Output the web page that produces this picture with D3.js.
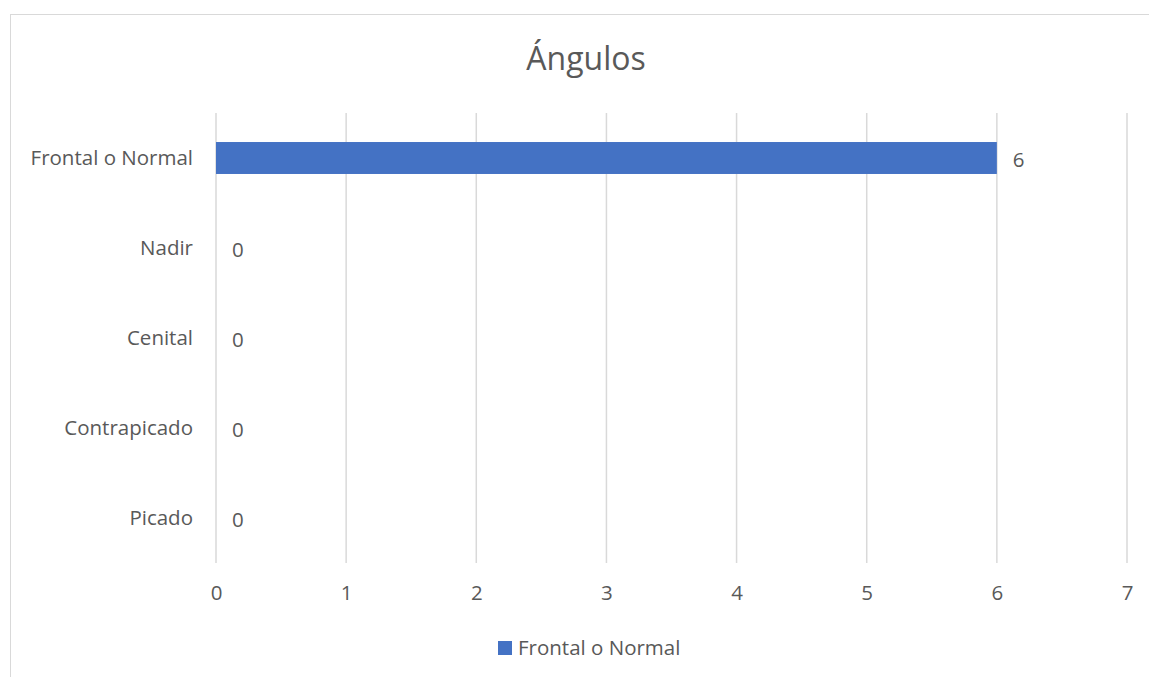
<!DOCTYPE html>
<html>
<head>
<meta charset="utf-8">
<script src="https://cdn.jsdelivr.net/npm/d3@7"></script>
<style>
  body { margin: 0; background: #fff; }
  text { font-family: "Open Sans", "Noto Sans", sans-serif; fill: #595959; }
</style>
</head>
<body>
<div id="chart"></div>
<script>
const categories = ['Frontal o Normal', 'Nadir', 'Cenital', 'Contrapicado', 'Picado'];
const values = [6, 0, 0, 0, 0];
const xTicks = [0, 1, 2, 3, 4, 5, 6, 7];
const seriesName = 'Frontal o Normal';
const title = 'Ángulos';

const W = 1149, H = 677;
const margin = { top: 113, right: 22, bottom: 114, left: 216 },
      width = W - margin.left - margin.right,
      height = H - margin.top - margin.bottom;

const fontSize = '20.5px';

const svg = d3.select('#chart')
              .append('svg')
              .attr('width', W)
              .attr('height', H);

// chart frame
svg.append('rect')
   .attr('x', 10.5).attr('y', 14.5)
   .attr('width', W).attr('height', H)
   .attr('fill', 'none')
   .attr('stroke', '#d9d9d9');

svg.append('text')
   .attr('x', 586).attr('y', 70)
   .attr('text-anchor', 'middle')
   .style('font-size', '32px')
   .text(title);

const g = svg.append('g')
             .attr('transform', `translate(${margin.left},${margin.top})`);

const x = d3.scaleLinear()
            .domain([0, 7])
            .range([0, width]);

const y = d3.scaleBand()
            .domain(categories)
            .range([0, height])
            .paddingInner(0.645)
            .paddingOuter(0.3225);

// vertical gridlines
g.selectAll('.grid')
 .data(xTicks)
 .enter()
 .append('line')
 .attr('x1', d => x(d)).attr('x2', d => x(d))
 .attr('y1', 0).attr('y2', height)
 .attr('stroke', '#d9d9d9')
 .attr('stroke-width', 1.5);

const xAxis = g.append('g')
               .attr('transform', `translate(0,${height})`)
               .call(d3.axisBottom(x).tickValues(xTicks).tickFormat(d3.format('d')).tickSize(0).tickPadding(22));
xAxis.select('.domain').remove();
xAxis.selectAll('text').style('font-size', fontSize).style('fill', '#595959').style('font-family', null);

const yAxis = g.append('g')
               .call(d3.axisLeft(y).tickSize(0).tickPadding(23));
yAxis.select('.domain').remove();
yAxis.selectAll('text').style('font-size', fontSize).style('fill', '#595959').style('font-family', null);

const data = categories.map((c, i) => ({ cat: c, val: values[i] }));

g.selectAll('.bar')
 .data(data)
 .enter()
 .append('rect')
 .attr('x', x(0))
 .attr('y', d => y(d.cat))
 .attr('width', d => x(d.val) - x(0))
 .attr('height', y.bandwidth())
 .attr('fill', '#4472c4');

g.selectAll('.lbl')
 .data(data)
 .enter()
 .append('text')
 .attr('x', d => x(d.val) + 16)
 .attr('y', d => y(d.cat) + y.bandwidth() / 2 + 2)
 .attr('dy', '0.35em')
 .style('font-size', fontSize)
 .text(d => d.val);

// legend
const legend = svg.append('g').attr('transform', 'translate(498,641)');
legend.append('rect')
      .attr('width', 14).attr('height', 14)
      .attr('fill', '#4472c4');
legend.append('text')
      .attr('x', 20).attr('y', 7)
      .attr('dy', '0.35em')
      .style('font-size', fontSize)
      .text(seriesName);
</script>
</body>
</html>
